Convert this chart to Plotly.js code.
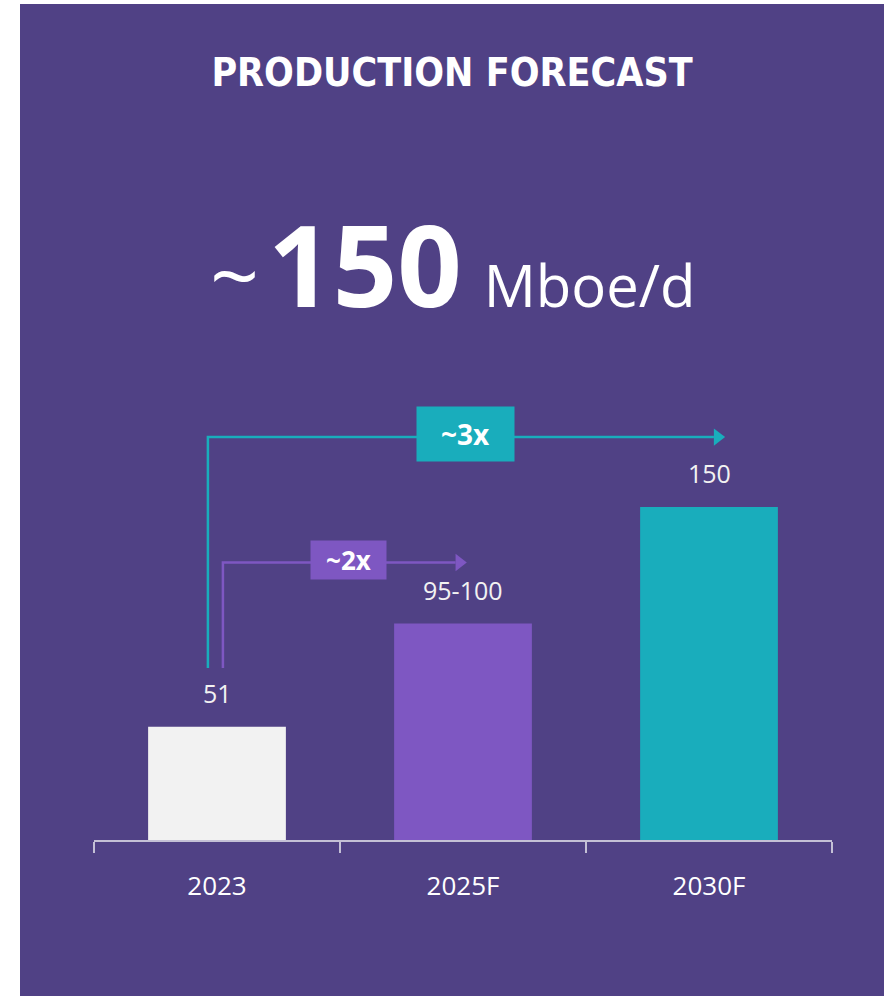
<!DOCTYPE html>
<html>
<head>
<meta charset="utf-8">
<script src="https://cdn.plot.ly/plotly-3.0.1.min.js"></script>
<style>
  html, body { margin: 0; padding: 0; background: #ffffff; width: 891px; height: 996px; overflow: hidden; }
  #chart { position: absolute; left: 20px; top: 4px; width: 864px; height: 992px; }
</style>
</head>
<body>
<div id="chart"></div>
<script>
// ---- data ----
const categories = ["2023", "2025F", "2030F"];
const values = [51, 97.5, 150];
const valueLabels = ["51", "95-100", "150"];
const barColors = ["#F2F2F2", "#7E57C2", "#19ADBC"];
const titleText = "PRODUCTION FORECAST";
const headlineValue = "150";
const headlineUnit = "Mboe/d";
const growthLabels = ["~2x", "~3x"];

// ---- styling ----
const BG = "#504185";
const TEAL = "#19ADBC";
const PURPLE = "#7E57C2";
const FONT = "Open Sans, Noto Sans, sans-serif";

// growth arrows (elbow connectors), in axis units of the overlay axis
const arrows = [
  { color: PURPLE, x: [0.024, 0.024, 0.97], y: [77.5, 125, 125], tip: [0.985, 125], label: growthLabels[0], lx: 0.535, w: 75, h: 38, fs: 26 },
  { color: TEAL,   x: [-0.037, -0.037, 2.02], y: [77.5, 181.5, 181.5], tip: [2.035, 181.5], label: growthLabels[1], lx: 1.012, w: 97, h: 54, fs: 28 }
];

const traces = [{
  type: "bar",
  x: categories,
  y: values,
  width: 0.56,
  marker: { color: barColors, line: { width: 0 } },
  hoverinfo: "skip",
  showlegend: false
}];

arrows.forEach(a => {
  traces.push({
    type: "scatter", mode: "lines", x: a.x, y: a.y, xaxis: "x2", yaxis: "y",
    line: { color: a.color, width: 2.5 }, hoverinfo: "skip", showlegend: false
  });
  traces.push({
    type: "scatter", mode: "markers", x: [a.tip[0]], y: [a.tip[1]], xaxis: "x2", yaxis: "y",
    marker: { symbol: "triangle-right", size: 15, color: a.color, line: { width: 0 } },
    hoverinfo: "skip", showlegend: false
  });
});

const annotations = [];
categories.forEach((c, i) => {
  annotations.push({
    x: i, y: values[i], xref: "x", yref: "y",
    text: valueLabels[i], showarrow: false,
    yanchor: "bottom", yshift: 15,
    font: { family: FONT, size: 25, color: "#F2F2F2" }
  });
});
arrows.forEach(a => {
  annotations.push({
    x: a.lx, y: a.y[1], xref: "x2", yref: "y",
    text: "<b>" + a.label + "</b>", showarrow: false,
    bgcolor: a.color, width: a.w, height: a.h, borderpad: 0,
    xanchor: "center", yanchor: "middle", yshift: 3,
    font: { family: FONT, size: a.fs, color: "#FFFFFF" }
  });
});
annotations.push({
  x: 0.4865, y: 1.299, xref: "paper", yref: "paper",
  xanchor: "center", yanchor: "middle", showarrow: false,
  text: '<span style="font-size:86px">~</span><span style="font-size:34px"> </span><span style="font-size:113px"><b>' + headlineValue +
        '</b></span><span style="font-size:84px"> </span><span style="font-size:58px">' + headlineUnit + '</span>',
  font: { family: FONT, size: 58, color: "#FFFFFF" }
});

const layout = {
  width: 864, height: 992,
  paper_bgcolor: BG, plot_bgcolor: BG,
  margin: { l: 74, r: 52, t: 392, b: 156, pad: 0 },
  title: {
    text: "<b>" + titleText + "</b>",
    x: 0.5, xref: "container", xanchor: "center",
    y: 1 - 68 / 992, yref: "container", yanchor: "middle",
    font: { family: "Liberation Sans Narrow, DejaVu Sans Condensed, sans-serif", size: 39, color: "#FFFFFF" }
  },
  xaxis: {
    type: "category", range: [-0.5, 2.5],
    showline: true, linecolor: "#C4C0D6", linewidth: 1.5,
    ticks: "outside", tickson: "boundaries", ticklen: 11, tickwidth: 1.5, tickcolor: "#C4C0D6",
    ticklabelstandoff: 22,
    tickfont: { family: FONT, size: 26, color: "#FFFFFF" },
    showgrid: false, zeroline: false, fixedrange: true
  },
  xaxis2: { overlaying: "x", range: [-0.5, 2.5], visible: false, fixedrange: true },
  yaxis: { range: [0, 200], visible: false, showgrid: false, zeroline: false, fixedrange: true },
  annotations: annotations,
  bargap: 0.44,
  showlegend: false
};

Plotly.newPlot("chart", traces, layout, { displayModeBar: false, staticPlot: true });
</script>
</body>
</html>
